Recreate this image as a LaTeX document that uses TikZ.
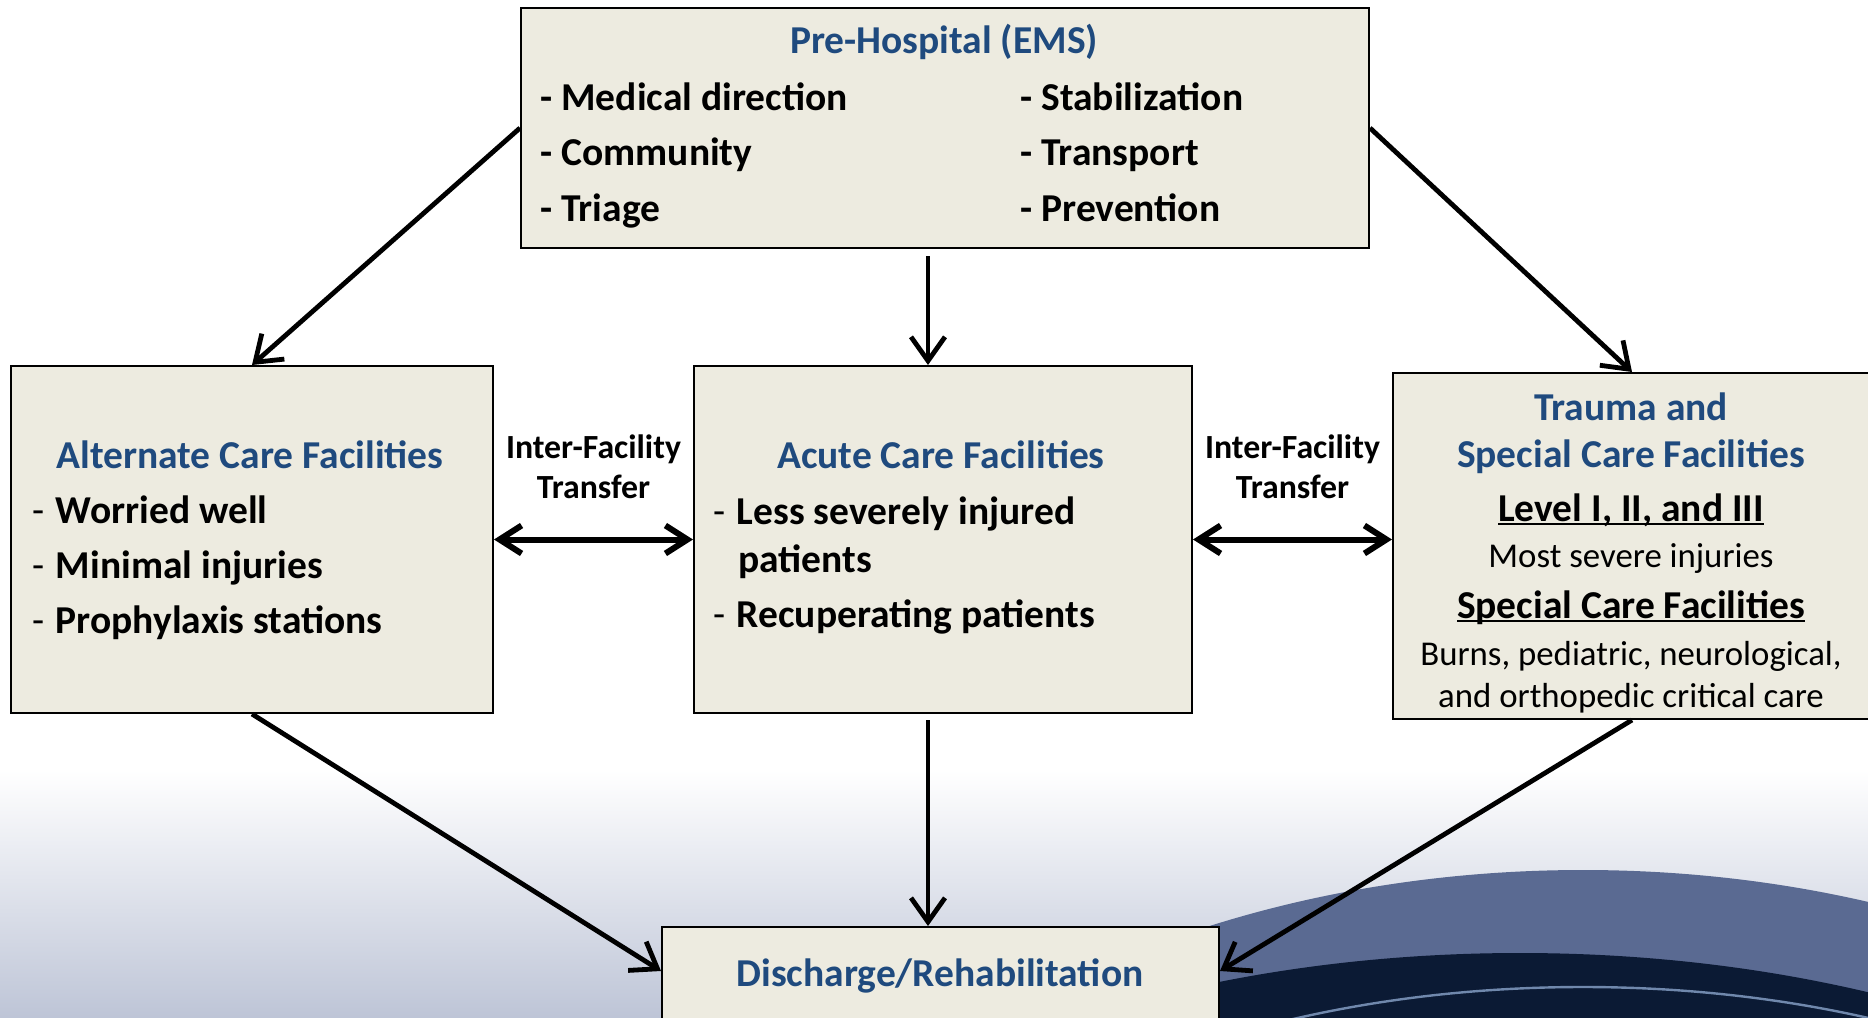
\documentclass[tikz,border=0pt]{standalone}
\usepackage{fontspec}
\setmainfont{Carlito}
\usepackage{xcolor}
\usepackage{tikz}
\usetikzlibrary{arrows.meta,positioning,calc}
\definecolor{boxfill}{RGB}{237,235,224}
\definecolor{headblue}{RGB}{31,74,126}
\definecolor{bgbottom}{RGB}{190,197,215}
\definecolor{swlight}{RGB}{90,106,146}
\definecolor{swdark}{RGB}{11,26,52}
\definecolor{swline}{RGB}{112,136,172}
\newcommand{\boldtext}{\fontsize{19.75}{23}\selectfont\bfseries}
\newcommand{\smalltext}{\fontsize{17.4}{20}\selectfont}
\newcommand{\xfertext}{\fontsize{16.9}{20}\selectfont\bfseries}
\newcommand{\listdash}{\makebox[11.75pt][l]{\mdseries -}}
\newcommand{\underlined}[1]{\setbox0\hbox{#1}\rlap{\rule[-2.2pt]{\wd0}{1.2pt}}\box0}
\tikzstyle{block} = [draw, rectangle, fill=boxfill, line width=1pt,
    inner sep=0pt, anchor=north west]
\tikzstyle{head} = [font=\boldtext, text=headblue, anchor=base, inner sep=0pt]
\tikzstyle{item} = [font=\boldtext, anchor=base west, inner sep=0pt]
\tikzstyle{note} = [font=\smalltext, anchor=base, inner sep=0pt]
\tikzstyle{xfer} = [font=\xfertext, align=center, inner sep=0pt, above=18.75pt]
\tikzstyle{connector} = [-{Straight Barb[length=12pt,width=17pt]}, line width=2.4pt]
\tikzstyle{transfer} = [{Straight Barb[length=11pt,width=14pt]}-{Straight Barb[length=11pt,width=14pt]}, line width=3pt]

\begin{document}
\begin{tikzpicture}[x=0.5pt, y=-0.5pt]
		\useasboundingbox (0,0) rectangle (1868,1017);
		\clip (0,0) rectangle (1868,1017);
		
		% backdrop
		\fill[white] (0,0) rectangle (1868,1017);
		\shade[top color=white, bottom color=bgbottom] (0,770) rectangle (1868,1017);
		\fill[swlight] (1583,1493) ellipse [x radius=900, y radius=623];
		\fill[swdark] (1520,1459) ellipse [x radius=900, y radius=506];
		\draw[swline, line width=1.2pt] (1583,1460) ellipse [x radius=800, y radius=473];
		
		\node[block, minimum width=424pt, minimum height=120pt] (pre) at (520,7) {};
		\node[block, minimum width=241pt, minimum height=173.5pt] (alt) at (10,365) {};
		\node[block, minimum width=249pt, minimum height=173.5pt] (acute) at (693,365) {};
		\node[block, minimum width=239pt, minimum height=173pt] (trauma) at (1392,372) {};
		\node[block, minimum width=278.5pt, minimum height=57pt] (disch) at (661,926) {};
		
		\node[head] (pre-title) at (944,54) {Pre-Hospital (EMS)};
		\node[item] (pre-a) at (540,110) {- Medical direction};
		\node[item] (pre-b) at (540,165) {- Community};
		\node[item] (pre-c) at (540,221) {- Triage};
		\node[item] (pre-d) at (1020,110) {- Stabilization};
		\node[item] (pre-e) at (1020,165) {- Transport};
		\node[item] (pre-f) at (1020,221) {- Prevention};
		
		\node[head] (alt-title) at (250,468) {Alternate Care Facilities};
		\node[item] (alt-a) at (32,523) {\listdash Worried well};
		\node[item] (alt-b) at (32,578) {\listdash Minimal injuries};
		\node[item] (alt-c) at (32,633) {\listdash Prophylaxis stations};
		
		\node[head] (acute-title) at (941,468) {Acute Care Facilities};
		\node[item] (acute-a) at (713,524) {\listdash Less severely injured};
		\node[item] (acute-b) at (738,572) {patients};
		\node[item] (acute-c) at (713,627) {\listdash Recuperating patients};
		
		\node[head] (trauma-t1) at (1631,420) {Trauma and};
		\node[head] (trauma-t2) at (1631,467) {Special Care Facilities};
		\node[item, anchor=base] (trauma-lvl) at (1631,521) {\underlined{Level I, II, and III}};
		\node[note] (trauma-n1) at (1631,567) {Most severe injuries};
		\node[item, anchor=base] (trauma-spc) at (1631,618) {\underlined{Special Care Facilities}};
		\node[note] (trauma-n2) at (1631,665) {Burns, pediatric, neurological,};
		\node[note] (trauma-n3) at (1631,707) {and orthopedic critical care};
		
		\node[head] (disch-title) at (940,986) {Discharge/Rehabilitation};
		
		\coordinate (spine) at (928,0);
		\coordinate (pre-out) at ($(pre.south -| spine) + (0,7)$);
		\coordinate (acute-out) at ($(acute.south -| spine) + (0,6)$);
		\coordinate (disch-l) at ($(disch.north west) + (0,45)$);
		\coordinate (disch-r) at ($(disch.north east) + (0,45)$);
		
		\draw[connector] (pre.west) to (alt.north);
		\draw[connector] (pre.east) to (trauma.north);
		\draw[connector] (pre-out) to (acute.north -| spine);
		\draw[connector] (acute-out) to (disch.north -| spine);
		\draw[connector] (alt.south) to (disch-l);
		\draw[connector] (trauma.south) to (disch-r);
		\draw[transfer] (alt.east) to node[xfer] (xfer-a) {Inter-Facility\\Transfer} (acute.west);
		\draw[transfer] (acute.east) to node[xfer] (xfer-b) {Inter-Facility\\Transfer} (acute.east -| trauma.west);
	\end{tikzpicture}
\end{document}
